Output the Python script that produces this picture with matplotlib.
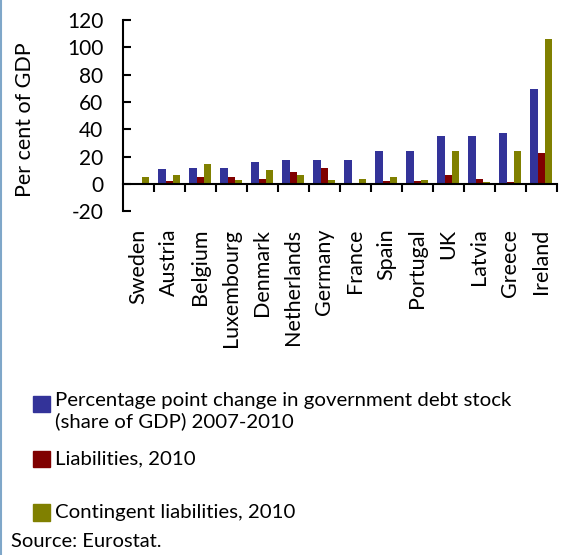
import matplotlib.pyplot as plt
import numpy as np
from matplotlib.patches import Rectangle
from matplotlib.lines import Line2D

plt.rcParams['font.family'] = ['Lato', 'DejaVu Sans']
plt.rcParams['axes.unicode_minus'] = False

# dados (% do PIB)
countries = ['Sweden', 'Austria', 'Belgium', 'Luxembourg', 'Denmark', 'Netherlands',
             'Germany', 'France', 'Spain', 'Portugal', 'UK', 'Latvia', 'Greece', 'Ireland']
debt_change = [0, 11, 11.5, 11.5, 16, 17.5, 17.5, 17.5, 24, 24.5, 35, 35, 37, 69.5]
liabilities = [0, 2, 5.5, 5.5, 3.5, 8.5, 11.5, 0, 2, 2.5, 7, 3.5, 1.2, 22.5]
contingent = [5, 7, 15, 2.7, 10.5, 6.5, 2.7, 4, 5, 2.7, 24, 1.2, 24.5, 106]

series_labels = ['Percentage point change in government debt stock\n(share of GDP) 2007-2010',
                 'Liabilities, 2010',
                 'Contingent liabilities, 2010']
colors = ['#333399', '#800000', '#808000']
yticks = [-20, 0, 20, 40, 60, 80, 100, 120]

fig = plt.figure(figsize=(5.63, 5.55), dpi=100)
ax = fig.add_axes([0.218, 0.619, 0.771, 0.345])

x = np.arange(len(countries))
w = 0.235
for i, (vals, c) in enumerate(zip([debt_change, liabilities, contingent], colors)):
    ax.bar(x + (i - 1) * w, vals, width=w, color=c, linewidth=0)

ax.set_xlim(-0.5, len(countries) - 0.5)
ax.set_ylim(-20, 120)
ax.set_yticks(yticks)
ax.tick_params(axis='y', direction='in', length=6, width=1.5, labelsize=15, pad=14)

# eixo x passa pelo zero, marcas entre as categorias
ax.spines['bottom'].set_position(('data', 0))
ax.set_xticks(list(x[1:] - 0.5) + [len(countries) - 0.5])
ax.tick_params(axis='x', direction='out', length=6, width=1.5, labelbottom=False)
for s in ['top', 'right']:
    ax.spines[s].set_visible(False)
for s in ['left', 'bottom']:
    ax.spines[s].set_linewidth(1.5)

# nomes dos países abaixo do gráfico
for xi, name in zip(x, countries):
    ax.text(xi, -0.09, name, transform=ax.get_xaxis_transform(), rotation=90,
            ha='center', va='top', fontsize=15.5)

fig.text(0.044, 0.784, 'Per cent of GDP', rotation=90, ha='center', va='center', fontsize=15.5)

# legenda feita à mão
leg_y = [0.272, 0.173, 0.076]
for y, c, lab in zip(leg_y, colors, series_labels):
    fig.add_artist(Rectangle((0.059, y - 0.014), 0.03, 0.029, color=c, transform=fig.transFigure))
    if '\n' in lab:
        fig.text(0.097, y + 0.022, lab, ha='left', va='top', fontsize=14.7, linespacing=1.25)
    else:
        fig.text(0.097, y, lab, ha='left', va='center', fontsize=14.7)

fig.text(0.02, 0.025, 'Source: Eurostat.', ha='left', va='center', fontsize=14.5)
fig.add_artist(Line2D([0.002, 0.002], [0, 1], color='#7fa7c9', linewidth=1.5, transform=fig.transFigure))

fig.savefig('out.png', dpi=100)
